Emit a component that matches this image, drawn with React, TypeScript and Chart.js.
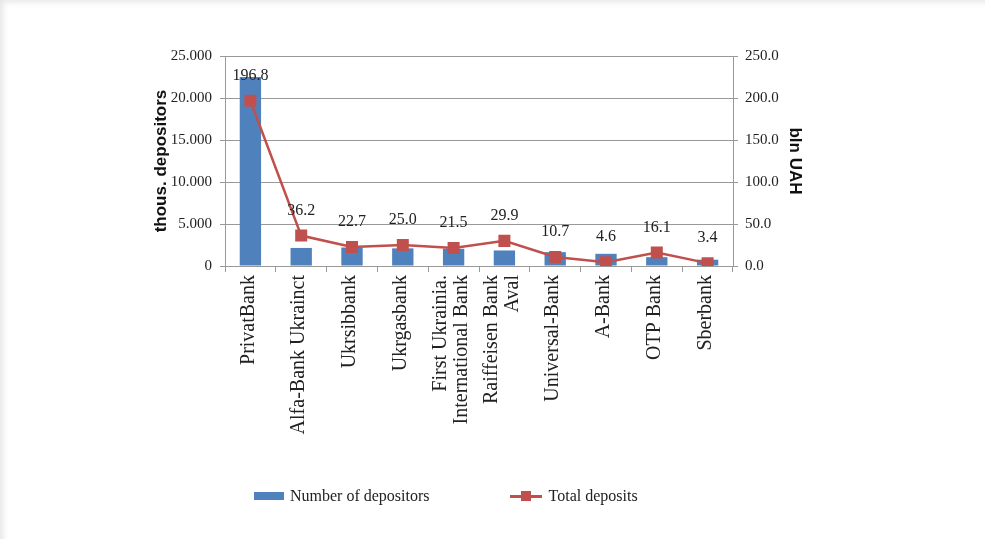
import React, { useEffect, useRef } from "react";
import { Chart, registerables } from "chart.js";

Chart.register(...registerables);

const categories: (string | string[])[] = [
  "PrivatBank",
  "Alfa-Bank Ukrainct",
  "Ukrsibbank",
  "Ukrgasbank",
  ["First Ukrainia.", "International Bank"],
  ["Raiffeisen Bank", "Aval"],
  "Universal-Bank",
  "A-Bank",
  "OTP Bank",
  "Sberbank",
];

const depositors = [22500, 2150, 2200, 2100, 2050, 1850, 1650, 1450, 1050, 750];
const totalDeposits = [196.8, 36.2, 22.7, 25.0, 21.5, 29.9, 10.7, 4.6, 16.1, 3.4];

const leftTicks = [0, 5000, 10000, 15000, 20000, 25000];
const rightTicks = [0, 50, 100, 150, 200, 250];

const BLUE = "#4F81BD";
const RED = "#C0504D";
const SERIF = "'Liberation Serif', 'Times New Roman', serif";
const SANS = "'Liberation Sans', Arial, sans-serif";

const fmtLeft = (v: number) => {
  if (v === 0) return "0";
  const th = Math.floor(v / 1000);
  const rest = String(v % 1000).padStart(3, "0");
  return `${th}.${rest}`;
};

const labelPlugin = {
  id: "lineLabels",
  afterDatasetsDraw(chart: any) {
    const meta = chart.getDatasetMeta(1);
    const ctx = chart.ctx;
    ctx.save();
    ctx.font = `16px ${SERIF}`;
    ctx.fillStyle = "#222";
    ctx.textAlign = "center";
    ctx.textBaseline = "middle";
    meta.data.forEach((pt: any, i: number) => {
      ctx.fillText(totalDeposits[i].toFixed(1), pt.x, pt.y - 25);
    });
    ctx.restore();
  },
};

const xLabelPlugin = {
  id: "xLabels",
  afterDraw(chart: any) {
    const xs = chart.scales.x;
    const ctx = chart.ctx;
    const lh = 21;
    ctx.save();
    ctx.font = `20px ${SERIF}`;
    ctx.fillStyle = "#222";
    ctx.textAlign = "right";
    ctx.textBaseline = "middle";
    categories.forEach((lab, i) => {
      const lines = Array.isArray(lab) ? lab : [lab];
      const x = xs.getPixelForTick(i);
      const y = xs.top + 9;
      lines.forEach((ln, j) => {
        const off = (j - (lines.length - 1) / 2) * lh - 2;
        ctx.save();
        ctx.translate(x + off, y);
        ctx.rotate(-Math.PI / 2);
        ctx.fillText(ln, 0, 0);
        ctx.restore();
      });
    });
    ctx.restore();
  },
};

export default function App() {
  const ref = useRef<HTMLCanvasElement>(null);

  useEffect(() => {
    if (!ref.current) return;
    const chart = new Chart(ref.current, {
      type: "bar",
      data: {
        labels: categories,
        datasets: [
          {
            type: "bar",
            label: "Number of depositors",
            data: depositors,
            backgroundColor: BLUE,
            yAxisID: "y",
            barPercentage: 0.42,
            categoryPercentage: 1,
            order: 1,
          },
          {
            type: "line",
            label: "Total deposits",
            data: totalDeposits,
            borderColor: RED,
            backgroundColor: RED,
            borderWidth: 2.5,
            pointStyle: "rect",
            pointRadius: 8.5,
            pointBorderWidth: 0,
            pointBackgroundColor: RED,
            yAxisID: "y1",
            order: 0,
          } as any,
        ],
      },
      options: {
        animation: false,
        responsive: false,
        layout: { padding: { left: 147, right: 176.5, top: 56, bottom: 73 } },
        plugins: {
          legend: { display: false },
          tooltip: { enabled: false },
        },
        scales: {
          x: {
            offset: true,
            grid: {
              offset: true,
              drawOnChartArea: false,
              tickLength: 6,
              color: "#999",
            },
            border: { color: "#999" },
            ticks: { display: false, autoSkip: false },
            afterFit(scale: any) {
              scale.height = 200;
            },
          },
          y: {
            position: "left",
            min: 0,
            max: 25000,
            afterBuildTicks(scale: any) {
              scale.ticks = leftTicks.map((v) => ({ value: v }));
            },
            grid: { color: "#999", tickLength: 5 },
            border: { color: "#999" },
            ticks: {
              padding: 8,
              color: "#222",
              font: { family: SERIF, size: 15 },
              callback: (v: any) => fmtLeft(Number(v)),
            },
            title: {
              display: true,
              text: "thous. depositors",
              color: "#111",
              font: { family: SANS, size: 17, weight: "bold" },
            },
            afterFit(scale: any) {
              scale.width = 78;
            },
          },
          y1: {
            position: "right",
            min: 0,
            max: 250,
            afterBuildTicks(scale: any) {
              scale.ticks = rightTicks.map((v) => ({ value: v }));
            },
            grid: { drawOnChartArea: false, color: "#999", tickLength: 5 },
            border: { color: "#999" },
            ticks: {
              padding: 7,
              color: "#222",
              font: { family: SERIF, size: 15 },
              callback: (v: any) => Number(v).toFixed(1),
            },
            title: {
              display: true,
              text: "bln UAH",
              color: "#111",
              font: { family: SANS, size: 17, weight: "bold" },
            },
            afterFit(scale: any) {
              scale.width = 75.5;
            },
          },
        },
      } as any,
      plugins: [labelPlugin, xLabelPlugin],
    });
    return () => chart.destroy();
  }, []);

  return (
    <div
      style={{
        position: "fixed",
        left: 0,
        top: 0,
        width: 985,
        height: 539,
        background: "#fff",
        boxShadow: "inset 7px 6px 6px -4px #e6e6e6",
        overflow: "hidden",
      }}
    >
      <canvas ref={ref} width={985} height={539} style={{ position: "absolute", left: 0, top: 0 }} />
      <div
        style={{
          position: "absolute",
          left: 254,
          top: 487,
          display: "flex",
          alignItems: "center",
          fontFamily: SERIF,
          fontSize: 16,
          color: "#222",
          whiteSpace: "nowrap",
        }}
      >
        <span style={{ display: "inline-block", width: 30, height: 8, background: BLUE, marginRight: 6 }} />
        <span>Number of depositors</span>
        <span
          style={{
            position: "relative",
            display: "inline-block",
            width: 32,
            height: 10,
            marginLeft: 80,
            marginRight: 7,
          }}
        >
          <span style={{ position: "absolute", left: 0, top: 4, width: 32, height: 3, background: RED }} />
          <span style={{ position: "absolute", left: 11, top: 0, width: 10, height: 10, background: RED }} />
        </span>
        <span>Total deposits</span>
      </div>
    </div>
  );
}
